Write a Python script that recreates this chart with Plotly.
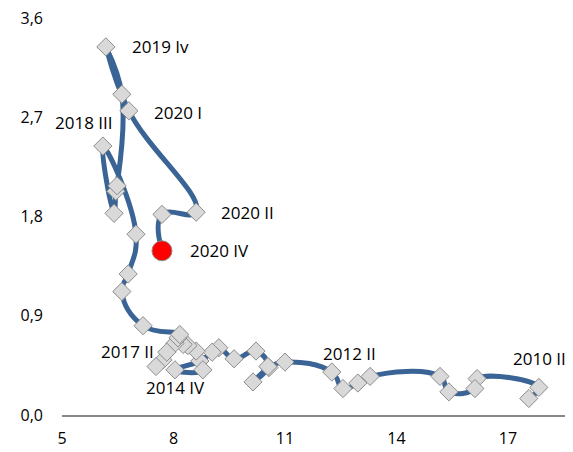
import plotly.graph_objects as go

# quarters 2010 I .. 2020 IV
periods = [f"{y} {q}" for y in range(2010, 2021) for q in ["I", "II", "III", "IV"]]

x_vals = [
    17.56, 17.83, 16.17, 16.11, 15.41, 15.17, 13.29, 12.96, 12.56, 12.26,
    11.00, 10.57, 10.14, 10.54, 10.22, 9.63, 9.22, 9.04, 8.71, 8.04,
    8.79, 8.61, 8.39, 8.26, 8.04, 7.72, 7.53, 7.82, 8.12, 8.17,
    7.18, 6.61, 6.78, 6.99, 6.10, 6.40, 6.45, 6.48, 6.61, 6.18,
    6.80, 8.61, 7.69, 7.69,
]
y_vals = [
    0.15, 0.25, 0.33, 0.24, 0.21, 0.35, 0.35, 0.29, 0.24, 0.39,
    0.48, 0.43, 0.30, 0.44, 0.58, 0.51, 0.61, 0.57, 0.49, 0.41,
    0.41, 0.58, 0.63, 0.64, 0.65, 0.50, 0.44, 0.57, 0.70, 0.73,
    0.81, 1.12, 1.28, 1.64, 2.44, 1.83, 2.03, 2.08, 2.91, 3.34,
    2.76, 1.84, 1.82, 1.49,
]

# labelled points: period -> text, offset in px
labels = {
    "2010 II": ("2010 II", 1, 29),
    "2012 II": ("2012 II", 18, 19),
    "2014 IV": ("2014 IV", 1, -18),
    "2017 II": ("2017 II", -52, -17),
    "2018 III": ("2018 III", -19, 24),
    "2019 IV": ("2019 Iv", 55, 0),
    "2020 I": ("2020 I", 49, -2),
    "2020 II": ("2020 II", 51, 0),
    "2020 IV": ("2020 IV", 58, 0),
}

y_ticks = [0, 0.9, 1.8, 2.7, 3.6]
y_tick_text = ["0,0", "0,9", "1,8", "2,7", "3,6"]
x_ticks = [5, 8, 11, 14, 17]

FONT = "Open Sans, sans-serif"
n = len(x_vals)

fig = go.Figure()
fig.add_trace(
    go.Scatter(
        x=x_vals,
        y=y_vals,
        mode="lines+markers",
        line=dict(color="#3A6496", width=5, shape="spline", smoothing=1.3),
        marker=dict(
            symbol=["diamond"] * (n - 1) + ["circle"],
            size=[14] * (n - 1) + [20],
            color=["#D9D9D9"] * (n - 1) + ["#FF0000"],
            opacity=1,
            line=dict(color="#8C8C8C", width=1),
        ),
        text=periods,
        hoverinfo="text+x+y",
        showlegend=False,
    )
)

for period, (txt, dx, dy) in labels.items():
    i = periods.index(period)
    fig.add_annotation(
        x=x_vals[i],
        y=y_vals[i],
        text=txt,
        showarrow=False,
        xshift=dx,
        yshift=dy,
        font=dict(family=FONT, size=17, color="#000000"),
    )

# the page body has an 8px margin, so the figure is a bit smaller than the window
fig.update_layout(
    width=565,
    height=444,
    margin=dict(l=54, r=0, t=10, b=37),
    paper_bgcolor="white",
    plot_bgcolor="white",
    font=dict(family=FONT, size=16, color="#000000"),
)
fig.update_xaxes(
    range=[5, 18.75],
    tickvals=x_ticks,
    showgrid=False,
    zeroline=False,
    showline=True,
    linecolor="#888888",
    linewidth=2,
    ticks="",
    ticklabelstandoff=8,
)
fig.update_yaxes(
    range=[0, 3.602],
    tickvals=y_ticks,
    ticktext=y_tick_text,
    showgrid=False,
    zeroline=False,
    showline=False,
    ticks="",
    ticklabelstandoff=18,
    ticklabeloverflow="allow",
)

fig.write_html("out.html")
